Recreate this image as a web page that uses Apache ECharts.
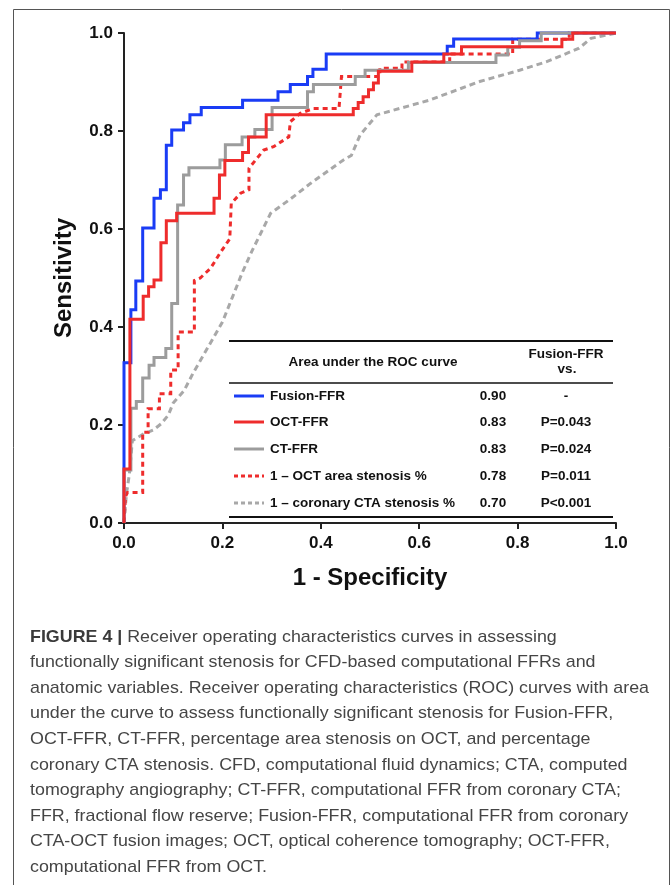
<!DOCTYPE html>
<html><head><meta charset="utf-8">
<script src="https://cdn.jsdelivr.net/npm/echarts@6/dist/echarts.min.js"></script>
<style>html,body{margin:0;padding:0;background:#fff}#c{width:672px;height:885px}</style>
</head><body><div id="c"></div>
<script>
// ---- data (1 - specificity, sensitivity) ----
const axisTicks = [0, 0.2, 0.4, 0.6, 0.8, 1.0];

const fusionFFR = [[0,0],[0,0.327],[0.014,0.327],[0.014,0.435],[0.024,0.435],[0.024,0.494],[0.038,0.494],[0.038,0.602],[0.061,0.602],[0.061,0.663],[0.074,0.663],[0.074,0.680],[0.086,0.680],[0.086,0.771],[0.097,0.771],[0.097,0.802],[0.121,0.802],[0.121,0.817],[0.134,0.817],[0.134,0.833],[0.157,0.833],[0.157,0.848],[0.241,0.848],[0.241,0.863],[0.313,0.863],[0.313,0.880],[0.338,0.880],[0.338,0.895],[0.373,0.895],[0.373,0.911],[0.384,0.911],[0.384,0.926],[0.411,0.926],[0.411,0.957],[0.657,0.957],[0.657,0.973],[0.670,0.973],[0.670,0.988],[0.840,0.988],[0.840,1.0],[1,1]];

const octFFR = [[0,0],[0,0.110],[0.012,0.110],[0.012,0.416],[0.039,0.416],[0.039,0.463],[0.050,0.463],[0.050,0.482],[0.061,0.482],[0.061,0.496],[0.075,0.496],[0.075,0.572],[0.086,0.572],[0.086,0.617],[0.107,0.617],[0.107,0.632],[0.183,0.632],[0.183,0.663],[0.194,0.663],[0.194,0.710],[0.205,0.710],[0.205,0.740],[0.241,0.740],[0.241,0.756],[0.253,0.756],[0.253,0.788],[0.289,0.788],[0.289,0.833],[0.466,0.833],[0.466,0.846],[0.476,0.846],[0.476,0.858],[0.486,0.858],[0.486,0.870],[0.497,0.870],[0.497,0.884],[0.507,0.884],[0.507,0.898],[0.517,0.898],[0.517,0.922],[0.585,0.922],[0.585,0.941],[0.650,0.941],[0.650,0.957],[0.686,0.957],[0.686,0.972],[0.890,0.972],[0.890,0.987],[0.912,0.987],[0.912,1.0],[1,1]];

const ctFFR = [[0,0],[0,0.108],[0.014,0.108],[0.014,0.234],[0.025,0.234],[0.025,0.248],[0.038,0.248],[0.038,0.296],[0.051,0.296],[0.051,0.322],[0.061,0.322],[0.061,0.338],[0.085,0.338],[0.085,0.356],[0.097,0.356],[0.097,0.448],[0.109,0.448],[0.109,0.649],[0.121,0.649],[0.121,0.710],[0.132,0.710],[0.132,0.725],[0.195,0.725],[0.195,0.741],[0.206,0.741],[0.206,0.772],[0.240,0.772],[0.240,0.788],[0.266,0.788],[0.266,0.803],[0.301,0.803],[0.301,0.848],[0.373,0.848],[0.373,0.880],[0.385,0.880],[0.385,0.895],[0.470,0.895],[0.470,0.911],[0.490,0.911],[0.490,0.924],[0.578,0.924],[0.578,0.940],[0.756,0.940],[0.756,0.955],[0.780,0.955],[0.780,0.971],[0.804,0.971],[0.804,0.984],[0.848,0.984],[0.848,1.0],[1,1]];

const octAreaStenosis = [[0,0],[0.003,0.054],[0.007,0.062],[0.038,0.062],[0.038,0.185],[0.049,0.185],[0.049,0.233],[0.072,0.233],[0.072,0.264],[0.095,0.264],[0.095,0.312],[0.110,0.312],[0.110,0.390],[0.143,0.390],[0.143,0.495],[0.155,0.500],[0.176,0.520],[0.196,0.552],[0.215,0.580],[0.218,0.652],[0.237,0.673],[0.254,0.680],[0.254,0.724],[0.284,0.761],[0.304,0.768],[0.335,0.788],[0.338,0.819],[0.358,0.836],[0.385,0.846],[0.437,0.846],[0.442,0.911],[0.520,0.911],[0.520,0.928],[0.565,0.928],[0.565,0.941],[0.662,0.941],[0.662,0.957],[0.790,0.957],[0.790,0.987],[0.905,0.987],[0.905,1.0],[1,1]];

const ctaStenosis = [[0,0],[0.005,0.060],[0.011,0.100],[0.017,0.168],[0.040,0.182],[0.060,0.190],[0.075,0.202],[0.090,0.220],[0.100,0.245],[0.122,0.270],[0.140,0.305],[0.160,0.340],[0.180,0.375],[0.200,0.410],[0.220,0.460],[0.240,0.510],[0.260,0.555],[0.298,0.632],[0.338,0.661],[0.379,0.693],[0.446,0.741],[0.462,0.750],[0.480,0.792],[0.514,0.833],[0.621,0.863],[0.723,0.901],[0.804,0.924],[0.858,0.941],[0.925,0.969],[0.949,0.989],[1,1]];

const legendNames = ['Fusion-FFR', 'OCT-FFR', 'CT-FFR', '1 \u2013 OCT area stenosis %', '1 \u2013 coronary CTA stenosis %'];
const legendAUC = ['0.90', '0.83', '0.83', '0.78', '0.70'];
const legendP = ['-', 'P=0.043', 'P=0.024', 'P=0.011', 'P<0.001'];

const captionLines = [
  '{b|FIGURE 4 |} Receiver operating characteristics curves in assessing',
  'functionally significant stenosis for CFD-based computational FFRs and',
  'anatomic variables. Receiver operating characteristics (ROC) curves with area',
  'under the curve to assess functionally significant stenosis for Fusion-FFR,',
  'OCT-FFR, CT-FFR, percentage area stenosis on OCT, and percentage',
  'coronary CTA stenosis. CFD, computational fluid dynamics; CTA, computed',
  'tomography angiography; CT-FFR, computational FFR from coronary CTA;',
  'FFR, fractional flow reserve; Fusion-FFR, computational FFR from coronary',
  'CTA-OCT fusion images; OCT, optical coherence tomography; OCT-FFR,',
  'computational FFR from OCT.'
];

// ---- styles ----
const seriesData = [fusionFFR, octFFR, ctFFR, octAreaStenosis, ctaStenosis];
const colors = ['#1a3cf5', '#ee2c2c', '#9c9c9c', '#ee2c2c', '#a8a8a8'];
const dashes = ['solid', 'solid', 'solid', [5, 4], [6, 4]];
const drawOrder = [4, 3, 0, 2, 1];
const FONT = '"Liberation Sans", Arial, Helvetica, sans-serif';

const chart = echarts.init(document.getElementById('c'), null, {renderer: 'canvas'});

function measure(t, font) {
  const c = document.createElement('canvas').getContext('2d');
  c.font = font; return c.measureText(t).width;
}
const capSize = 17;
const capScale = 619 / measure(captionLines[2], capSize + 'px "Liberation Sans"');

const graphics = [];
// figure frame
graphics.push({type: 'rect', shape: {x: 13.5, y: 9.5, width: 656, height: 900},
  style: {fill: 'none', stroke: '#555', lineWidth: 1}, silent: true});

// table
const tL = 229, tR = 613;
graphics.push({type: 'line', shape: {x1: tL, y1: 341, x2: tR, y2: 341}, style: {stroke: '#111', lineWidth: 2}});
graphics.push({type: 'line', shape: {x1: tL, y1: 383, x2: tR, y2: 383}, style: {stroke: '#111', lineWidth: 1.5}});
graphics.push({type: 'line', shape: {x1: tL, y1: 517, x2: tR, y2: 517}, style: {stroke: '#111', lineWidth: 2}});
const tFont = {fontFamily: FONT, fontWeight: 'bold', fontSize: 13.5, fill: '#111'};
graphics.push({type: 'text', x: 373, y: 362, style: Object.assign({text: 'Area under the ROC curve', align: 'center', verticalAlign: 'middle'}, tFont)});
graphics.push({type: 'text', x: 566, y: 354, style: Object.assign({text: 'Fusion-FFR', align: 'center', verticalAlign: 'middle'}, tFont)});
graphics.push({type: 'text', x: 567, y: 369.5, style: Object.assign({text: 'vs.', align: 'center', verticalAlign: 'middle'}, tFont)});
const rowY = [396, 422, 449, 476, 503];
legendNames.forEach((n, i) => {
  graphics.push({type: 'line', shape: {x1: 234, y1: rowY[i], x2: 264, y2: rowY[i]},
    style: {stroke: colors[i], lineWidth: 3, lineDash: i >= 3 ? [4, 3] : null}});
  graphics.push({type: 'text', x: 270, y: rowY[i], style: Object.assign({text: n, align: 'left', verticalAlign: 'middle'}, tFont)});
  graphics.push({type: 'text', x: 493, y: rowY[i], style: Object.assign({text: legendAUC[i], align: 'center', verticalAlign: 'middle'}, tFont)});
  graphics.push({type: 'text', x: 566, y: rowY[i], style: Object.assign({text: legendP[i], align: 'center', verticalAlign: 'middle'}, tFont)});
});

// caption
captionLines.forEach((t, i) => {
  graphics.push({type: 'text', x: 30, y: 637 + i * 25.6, scaleX: capScale, scaleY: 1,
    style: {text: t, align: 'left', verticalAlign: 'middle', fontFamily: FONT, fontSize: capSize, fill: '#454545',
      rich: {b: {fontWeight: 'bold', fontFamily: FONT, fontSize: capSize, fill: '#3a3a3a'}}}});
});

const axisCommon = {
  type: 'value', min: axisTicks[0], max: axisTicks[axisTicks.length - 1], interval: 0.2,
  splitLine: {show: false},
  axisLine: {show: true, onZero: false, lineStyle: {color: '#222', width: 2}},
  axisTick: {show: true, inside: false, length: 6, lineStyle: {color: '#222', width: 2}},
  nameLocation: 'middle',
  nameTextStyle: {fontFamily: FONT, fontWeight: 'bold', fontSize: 24, color: '#111'}
};

chart.setOption({
  animation: false,
  backgroundColor: '#fff',
  grid: {left: 124, top: 33, width: 492, height: 490},
  xAxis: Object.assign({}, axisCommon, {
    name: '1 - Specificity', nameGap: 43,
    axisLabel: {margin: 12, fontFamily: FONT, fontWeight: 'bold', fontSize: 17, color: '#111', formatter: v => v.toFixed(1)}
  }),
  yAxis: Object.assign({}, axisCommon, {
    name: 'Sensitivity', nameGap: 48,
    axisLabel: {margin: 11, fontFamily: FONT, fontWeight: 'bold', fontSize: 17, color: '#111', formatter: v => v.toFixed(1)}
  }),
  series: drawOrder.map(i => ({
    type: 'line', name: legendNames[i], data: seriesData[i], symbol: 'none', clip: false,
    lineStyle: {color: colors[i], width: 3, type: dashes[i], cap: 'butt', join: 'miter'},
    z: 2
  })),
  graphic: graphics
});
</script></body></html>
